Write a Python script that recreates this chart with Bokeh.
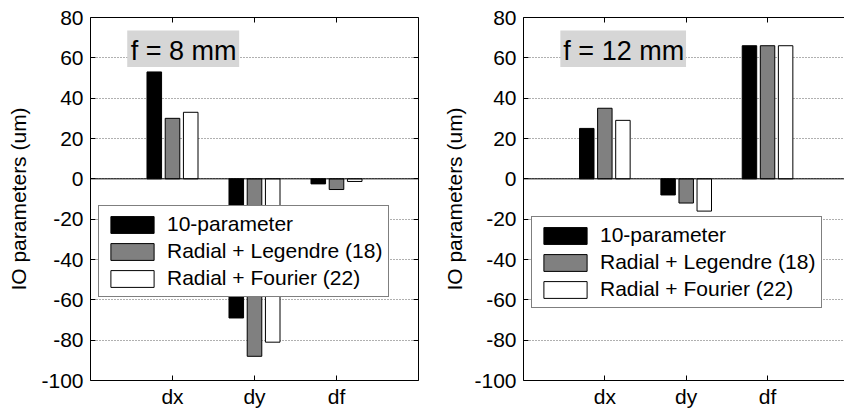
import numpy as np
from bokeh.plotting import figure
from bokeh.models import (FixedTicker, LinearAxis, Range1d, Span, BoxAnnotation,
                          Label, Legend, LegendItem)
from bokeh.layouts import row
from bokeh.embed import file_html
from bokeh.resources import INLINE

# ---------------- data ----------------
categories = ["dx", "dy", "df"]
series_names = ["10-parameter", "Radial + Legendre (18)", "Radial + Fourier (22)"]
series_colors = ["#000000", "#808080", "#ffffff"]

f8_ten_param = [53, -69, -2.5]
f8_legendre = [30, -88, -5.3]
f8_fourier = [33, -81, -1.3]

f12_ten_param = [25, -8, 66]
f12_legendre = [35, -12, 66]
f12_fourier = [29, -16, 66]

panel_titles = ["f = 8 mm", "f = 12 mm"]
y_label = "IO parameters (um)"
y_ticks = [-100, -80, -60, -40, -20, 0, 20, 40, 60, 80]
y_tick_labels = ["-100", "-80", "-60", "-40", "-20", "0", "20", "40", "60", "80"]

FONT = "Liberation Sans"


def style_axis(ax, ticks, overrides, show_labels=True):
    ax.ticker = FixedTicker(ticks=ticks)
    ax.major_label_overrides = overrides
    ax.major_tick_in = 5
    ax.major_tick_out = 0
    ax.minor_tick_line_color = None
    ax.axis_line_color = "black"
    ax.axis_line_width = 1
    ax.major_tick_line_color = "black"
    ax.major_label_text_font = FONT
    ax.major_label_text_color = "black"
    if show_labels:
        ax.major_label_text_font_size = "21px"
    else:
        ax.major_label_text_font_size = "1px"
        ax.major_label_text_alpha = 0
        ax.major_label_standoff = 0


def make_panel(series_values, title, width, x_end, min_border_left, min_border_right,
               legend_y, box_x, text_x, right_axis, label_standoff):
    p = figure(width=width, height=410, output_backend="svg", toolbar_location=None,
               x_range=Range1d(0, x_end), y_range=Range1d(-100, 80),
               min_border_left=min_border_left, min_border_right=min_border_right,
               min_border_top=17, min_border_bottom=28)
    p.outline_line_color = None
    p.background_fill_color = "white"
    p.border_fill_color = "white"

    xpos = np.arange(1, len(categories) + 1)
    x_over = {int(x): c for x, c in zip(xpos, categories)}
    y_over = {t: s for t, s in zip(y_ticks, y_tick_labels)}

    style_axis(p.xaxis[0], list(xpos), x_over)
    p.xaxis[0].major_label_standoff = 4
    style_axis(p.yaxis[0], y_ticks, y_over)
    p.yaxis[0].major_label_standoff = 7
    p.yaxis[0].axis_label = y_label
    p.yaxis[0].axis_label_text_font = FONT
    p.yaxis[0].axis_label_text_font_size = "21px"
    p.yaxis[0].axis_label_text_font_style = "normal"
    p.yaxis[0].axis_label_text_color = "black"
    p.yaxis[0].axis_label_standoff = label_standoff

    top_ax = LinearAxis()
    style_axis(top_ax, list(xpos), {int(x): "" for x in xpos}, show_labels=False)
    p.add_layout(top_ax, "above")
    if right_axis:
        r_ax = LinearAxis()
        style_axis(r_ax, y_ticks, {t: "" for t in y_ticks}, show_labels=False)
        p.add_layout(r_ax, "right")

    p.xgrid.grid_line_color = None
    p.ygrid.ticker = FixedTicker(ticks=y_ticks)
    p.ygrid.grid_line_color = "#606060"
    p.ygrid.grid_line_dash = "1 2"
    p.ygrid.grid_line_width = 1

    n = len(series_values)
    group_w = min(0.8, n / (n + 1.5))
    step = group_w / n
    bar_w = 0.8 * step
    items = []
    for i, (vals, name, col) in enumerate(zip(series_values, series_names, series_colors)):
        off = (i - (n - 1) / 2) * step
        r = p.vbar(x=xpos + off, top=vals, bottom=0, width=bar_w,
                   fill_color=col, line_color="black", line_width=1)
        items.append(LegendItem(label=name, renderers=[r]))

    p.add_layout(Span(location=0, dimension="width", line_color="black", line_width=1))

    p.add_layout(BoxAnnotation(left=box_x[0], right=box_x[1], bottom=55.5, top=73.6,
                               fill_color="#d6d6d6", fill_alpha=1.0, line_color=None))
    p.add_layout(Label(x=text_x, y=63.4, text=title, text_font=FONT,
                       text_font_size="27px", text_color="black",
                       text_baseline="alphabetic", text_align="left"))

    legend = Legend(items=items, location=(8, legend_y))
    legend.border_line_color = "black"
    legend.border_line_width = 1
    legend.background_fill_color = "white"
    legend.background_fill_alpha = 1.0
    legend.glyph_width = 54
    legend.glyph_height = 21
    legend.label_height = 21
    legend.spacing = 3
    legend.padding = 6
    legend.margin = 0
    legend.label_standoff = 8
    legend.label_text_font = FONT
    legend.label_text_font_size = "21px"
    legend.label_text_color = "black"
    p.add_layout(legend, "center")
    return p


p1 = make_panel([f8_ten_param, f8_legendre, f8_fourier], panel_titles[0],
                width=440, x_end=4.0, min_border_left=90, min_border_right=22,
                legend_y=83, box_x=(0.448, 1.813), text_x=0.49, right_axis=True,
                label_standoff=8)
p2 = make_panel([f12_ten_param, f12_legendre, f12_fourier], panel_titles[1],
                width=404, x_end=322 / 81.6, min_border_left=82, min_border_right=0,
                legend_y=72, box_x=(0.453, 1.998), text_x=0.49, right_axis=False,
                label_standoff=5)

layout = row(p1, p2)
open("out.html", "w").write(file_html(layout, INLINE))
